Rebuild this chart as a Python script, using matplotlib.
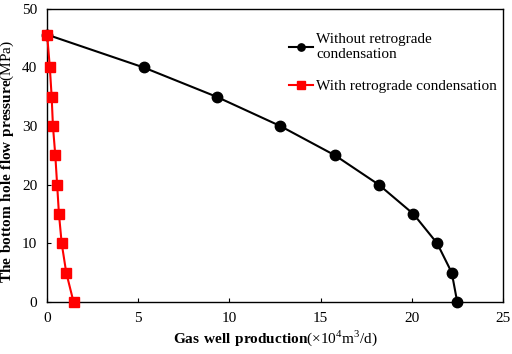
import matplotlib
matplotlib.use("Agg")
import matplotlib.pyplot as plt

# bottom hole flow pressure (MPa) vs gas production (x10^4 m3/d)
pressure = [45.6, 40, 35, 30, 25, 20, 15, 10, 5, 0]
q_without = [0.0, 5.3, 9.3, 12.8, 15.8, 18.2, 20.1, 21.4, 22.2, 22.5]
q_with = [0.0, 0.15, 0.25, 0.32, 0.45, 0.55, 0.65, 0.8, 1.05, 1.45]

plt.rcParams["font.family"] = ["Liberation Serif", "DejaVu Serif"]
plt.rcParams["mathtext.fontset"] = "custom"
plt.rcParams["mathtext.rm"] = "Liberation Serif"
plt.rcParams["mathtext.bf"] = "Liberation Serif:bold"

fig = plt.figure(figsize=(5.12, 3.54), dpi=100)
ax = fig.add_axes([0.092, 0.147, 0.890, 0.828])

ax.plot(q_without, pressure, color="black", marker="o", markersize=7.5, lw=1.5,
        label="Without retrograde\ncondensation", clip_on=False, zorder=3)
ax.plot(q_with, pressure, color="red", marker="s", markersize=7.5, lw=1.5,
        label="With retrograde condensation", clip_on=False, zorder=4)

ax.set_xlim(0, 25)
ax.set_ylim(0, 50)
ax.set_xticks([0, 5, 10, 15, 20, 25])
ax.set_yticks([0, 10, 20, 30, 40, 50])
ax.tick_params(direction="in", length=3, labelsize=11, pad=7)
for s in ax.spines.values():
    s.set_linewidth(1.0)

ax.set_xlabel(r"$\mathbf{Gas\ well\ production}$(×10$^4$m$^3$/d)", fontsize=11, labelpad=3)
ax.set_ylabel(r"$\mathbf{The\ bottom\ hole\ flow\ pressure}$(MPa)", fontsize=11)
ax.yaxis.set_label_coords(-0.068, 0.48)

ax.legend(loc="upper right", frameon=False, fontsize=11, handlelength=1.6,
          handletextpad=0.2, labelspacing=1.2, markerscale=0.7,
          bbox_to_anchor=(1.018, 0.965))

fig.savefig("out.png", dpi=100)
